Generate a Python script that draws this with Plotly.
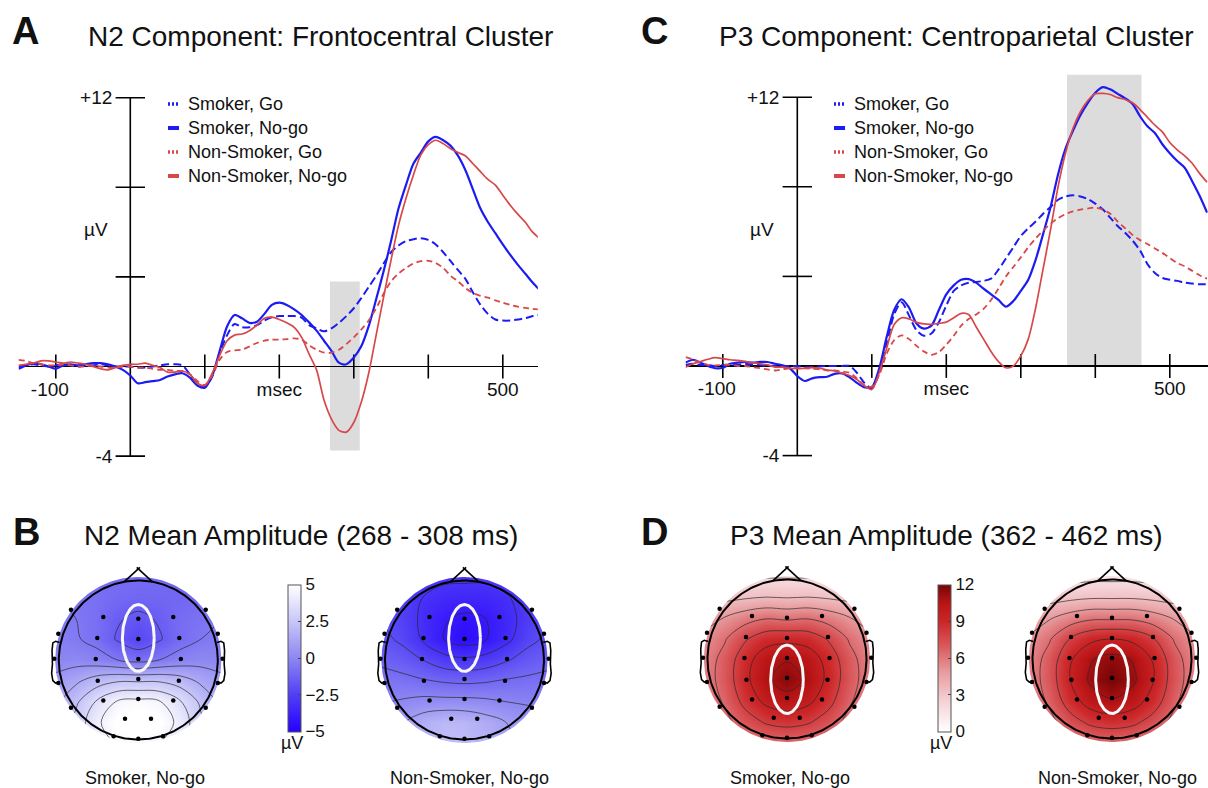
import numpy as np
import plotly.graph_objects as go

W, H = 1208, 788
FONT = "Liberation Sans, Arial, Helvetica, sans-serif"
BLUE = "#1c1cf2"
RED = "#d84848"
INK = "#111111"

# ------------------------------------------------------------------ data
time_ms = [-150, -140, -130, -120, -110, -100, -90, -80, -70, -60,
           -50, -40, -30, -20, -10, 0, 10, 20, 30, 40,
           50, 60, 70, 80, 90, 100, 110, 120, 130, 140,
           150, 160, 170, 180, 190, 200, 210, 220, 230, 240,
           250, 260, 270, 280, 290, 300, 310, 320, 330, 340,
           350, 360, 370, 380, 390, 400, 410, 420, 430, 440,
           450, 460, 470, 480, 490, 500, 510, 520, 530, 540, 550]

# Panel A: N2, frontocentral cluster (uV)
n2_smoker_go = [0.0, 0.05, 0.1, 0.05, 0.0, 0.05, 0.1, 0.05, 0.0, 0.05,
                0.05, 0.1, 0.05, 0.0, 0.0, 0.0, -0.05, -0.05, 0.0, 0.05,
                0.1, 0.1, 0.05, -0.35, -0.75, -0.9, -0.45, 0.6, 1.4, 1.9,
                1.75, 1.75, 1.85, 2.05, 2.2, 2.25, 2.25, 2.25, 2.18, 1.85,
                1.7, 1.57, 1.7, 1.95, 2.25, 2.6, 3.05, 3.55, 4.05, 4.6,
                5.1, 5.4, 5.6, 5.68, 5.73, 5.65, 5.45, 5.1, 4.7, 4.3,
                3.9, 3.3, 2.75, 2.35, 2.1, 2.05, 2.05, 2.1, 2.15, 2.25, 2.3]
n2_smoker_nogo = [-0.1, 0.05, 0.15, 0.1, 0.0, -0.1, 0.05, 0.1, 0.05, 0.1,
                  0.15, 0.15, 0.1, 0.0, -0.15, -0.4, -0.75, -0.7, -0.65, -0.6,
                  -0.45, -0.35, -0.3, -0.5, -0.85, -0.95, -0.4, 0.7, 1.8, 2.3,
                  2.15, 1.95, 2.0, 2.35, 2.75, 2.85, 2.75, 2.55, 2.3, 1.97,
                  1.6, 1.15, 0.7, 0.17, 0.1, 0.4, 0.9, 1.8, 3.0, 4.25,
                  5.6, 7.05, 8.1, 9.05, 9.55, 10.05, 10.25, 10.1, 9.85, 9.4,
                  8.75, 7.9, 7.05, 6.45, 5.95, 5.45, 4.98, 4.55, 4.15, 3.75, 3.4]
n2_nonsmoker_go = [0.3, 0.25, 0.15, 0.1, 0.05, 0.05, 0.1, 0.05, 0.0, 0.0,
                   0.05, 0.0, -0.05, -0.05, 0.0, 0.0, -0.05, -0.05, -0.1, -0.15,
                   -0.15, -0.2, -0.2, -0.35, -0.65, -0.82, -0.4, 0.3, 0.65, 0.72,
                   0.75, 0.9, 1.05, 1.15, 1.2, 1.2, 1.22, 1.26, 1.2, 0.95,
                   0.75, 0.62, 0.62, 0.75, 1.0, 1.3, 1.65, 2.05, 2.6, 3.25,
                   3.8, 4.15, 4.4, 4.6, 4.7, 4.72, 4.62, 4.4, 4.05, 3.8,
                   3.5, 3.28, 3.15, 3.07, 2.95, 2.85, 2.75, 2.67, 2.62, 2.57, 2.55]
n2_nonsmoker_nogo = [0.05, 0.1, 0.15, 0.25, 0.25, 0.2, 0.15, 0.2, 0.15, 0.1,
                     0.0, -0.1, -0.15, -0.05, 0.05, 0.1, 0.1, 0.15, 0.05, -0.05,
                     -0.25, -0.25, -0.2, -0.35, -0.75, -0.85, -0.3, 0.5, 1.15, 1.4,
                     1.45, 1.6, 1.85, 2.15, 2.2, 2.1, 1.95, 1.75, 1.3, 0.55,
                     -0.15, -1.5, -2.35, -2.85, -2.93, -2.5, -1.6, -0.3, 1.4, 3.1,
                     4.75, 6.3, 7.5, 8.55, 9.45, 9.9, 10.1, 9.95, 9.72, 9.55,
                     9.4, 9.05, 8.7, 8.35, 8.1, 7.65, 7.2, 6.8, 6.45, 6.0, 5.7]

# Panel C: P3, centroparietal cluster (uV)
p3_smoker_go = [0.05, 0.1, 0.05, 0.05, 0.0, 0.05, 0.05, 0.05, 0.1, 0.05,
                0.05, 0.0, 0.0, 0.0, 0.0, 0.0, -0.05, -0.05, -0.02, 0.0,
                0.0, 0.0, 0.0, -0.3, -0.75, -1.0, -0.3, 1.0, 2.3, 2.85,
                2.25, 1.6, 1.35, 1.45, 1.95, 2.7, 3.35, 3.6, 3.72, 3.75,
                3.8, 3.9, 4.3, 4.8, 5.3, 5.8, 6.15, 6.45, 6.8, 7.1,
                7.42, 7.57, 7.62, 7.57, 7.45, 7.25, 7.0, 6.62, 6.25, 5.95,
                5.6, 5.16, 4.55, 4.15, 3.93, 3.85, 3.8, 3.72, 3.68, 3.65, 3.65]
p3_smoker_nogo = [0.15, 0.28, 0.15, 0.0, -0.1, -0.08, 0.1, 0.15, 0.18, 0.15,
                  0.18, 0.18, 0.1, 0.03, -0.1, -0.45, -0.67, -0.55, -0.5, -0.48,
                  -0.35, -0.33, -0.5, -0.75, -0.95, -0.95, -0.1, 1.3, 2.5, 2.98,
                  2.6, 1.9, 1.67, 1.8, 2.5, 3.2, 3.6, 3.85, 3.88, 3.72,
                  3.45, 3.2, 2.95, 2.65, 2.9, 3.35, 3.85, 4.75, 5.9, 7.1,
                  8.55, 9.7, 10.5, 11.2, 11.75, 12.2, 12.45, 12.35, 12.15, 11.95,
                  11.7, 11.15, 10.7, 10.4, 9.9, 9.5, 9.15, 8.85, 8.25, 7.6, 6.85]
p3_nonsmoker_go = [0.4, 0.3, 0.15, 0.05, 0.03, 0.05, 0.05, 0.0, 0.0, -0.05,
                   -0.1, -0.15, -0.2, -0.15, -0.1, -0.1, -0.1, -0.12, -0.15, -0.2,
                   -0.2, -0.25, -0.3, -0.55, -0.85, -0.92, -0.4, 0.55, 1.15, 1.37,
                   1.2, 0.9, 0.65, 0.5, 0.62, 0.95, 1.35, 1.8, 2.1, 2.3,
                   2.55, 2.95, 3.45, 4.0, 4.42, 4.85, 5.3, 5.7, 6.05, 6.35,
                   6.6, 6.78, 6.9, 6.98, 7.03, 7.07, 6.98, 6.8, 6.45, 6.15,
                   5.85, 5.62, 5.45, 5.25, 5.05, 4.82, 4.6, 4.45, 4.25, 4.05, 3.9]
p3_nonsmoker_nogo = [-0.05, 0.1, 0.2, 0.3, 0.37, 0.33, 0.28, 0.25, 0.2, 0.15,
                     0.1, 0.05, -0.05, -0.05, -0.1, -0.12, -0.1, -0.07, -0.1, -0.18,
                     -0.22, -0.32, -0.42, -0.6, -0.88, -1.05, -0.3, 0.8, 1.85, 2.15,
                     2.1, 1.95, 1.88, 1.86, 1.9, 1.96, 2.15, 2.35, 2.3, 1.75,
                     1.2, 0.65, 0.2, -0.08, 0.0, 0.45, 1.2, 2.6, 4.35, 6.1,
                     8.0, 9.5, 10.6, 11.35, 11.85, 12.15, 12.17, 12.12, 11.98, 11.9,
                     11.75, 11.45, 11.1, 10.75, 10.45, 9.98, 9.65, 9.38, 9.05, 8.6, 8.2]

series_names = ["Smoker, Go", "Smoker, No-go", "Non-Smoker, Go", "Non-Smoker, No-go"]

x_ticks = [-100, 100, 200, 300, 400, 500]
x_label_vals = [-108, 200, 500]
x_label_text = ["-100", "msec", "500"]
y_ticks = [-4, 4, 8, 12]
y_label_vals = [12, -4]
y_label_text = ["+12", "-4"]

n2_window_ms = [268, 308]
n2_window_uv = [-3.75, 3.8]
p3_window_ms = [362, 462]
p3_window_uv = [0, 13]

# Topographic maps: values read on a regular grid over the head (rows top -> bottom)
topo_grid = [-1.05, -0.7875, -0.525, -0.2625, 0.0, 0.2625, 0.525, 0.7875, 1.05]

n2_topo_smoker = [
    [-0.6, -0.7, -0.8, -0.9, -0.9, -1.0, -1.1, -1.0, -0.8],
    [-0.5, -0.6, -0.8, -1.0, -1.1, -1.1, -1.1, -0.9, -0.7],
    [-0.4, -0.5, -0.8, -1.4, -1.7, -1.4, -0.9, -0.7, -0.5],
    [-0.2, -0.4, -0.8, -1.6, -2.2, -1.6, -0.9, -0.5, -0.3],
    [0.0, 0.1, -0.1, -0.5, -0.8, -0.5, -0.1, 0.1, 0.0],
    [0.8, 1.3, 2.0, 2.4, 2.4, 2.4, 2.0, 1.3, 0.8],
    [1.2, 2.3, 3.6, 4.6, 4.8, 4.6, 3.6, 2.3, 1.2],
    [1.5, 2.8, 4.3, 5.2, 5.4, 5.2, 4.2, 2.7, 1.5],
    [1.6, 2.7, 3.9, 4.6, 4.8, 4.5, 3.8, 2.6, 1.6],
]
n2_topo_nonsmoker = [
    [-2.3, -2.4, -2.6, -2.8, -2.8, -2.8, -2.6, -2.4, -2.3],
    [-2.2, -2.5, -3.0, -3.3, -3.4, -3.4, -3.1, -2.6, -2.2],
    [-2.0, -2.4, -3.2, -3.9, -4.2, -4.0, -3.4, -2.6, -2.0],
    [-1.7, -2.2, -3.1, -4.0, -4.5, -4.1, -3.3, -2.3, -1.8],
    [-1.2, -1.5, -2.0, -2.6, -2.8, -2.6, -2.1, -1.6, -1.3],
    [-0.6, -0.7, -0.9, -1.1, -1.2, -1.1, -0.9, -0.8, -0.7],
    [-0.1, 0.1, 0.3, 0.3, 0.3, 0.2, 0.0, -0.1, -0.2],
    [0.3, 0.9, 1.6, 2.0, 1.9, 1.5, 1.0, 0.5, 0.3],
    [0.5, 1.1, 1.8, 2.2, 2.1, 1.7, 1.2, 0.7, 0.5],
]
p3_topo_smoker = [
    [1.5, 1.5, 1.6, 1.8, 1.8, 1.8, 1.6, 1.5, 1.5],
    [3.0, 3.0, 3.2, 3.4, 3.3, 3.4, 3.2, 3.0, 3.0],
    [4.5, 5.0, 5.8, 6.3, 6.1, 6.3, 5.8, 5.0, 4.5],
    [5.2, 6.3, 7.8, 8.8, 9.0, 8.8, 7.8, 6.3, 5.2],
    [5.6, 7.0, 8.9, 10.4, 10.9, 10.4, 8.9, 7.0, 5.6],
    [5.7, 7.1, 9.1, 10.8, 11.6, 10.8, 9.1, 7.1, 5.7],
    [5.4, 6.7, 8.5, 9.9, 10.5, 9.9, 8.5, 6.7, 5.4],
    [4.8, 6.0, 7.3, 8.2, 8.5, 8.2, 7.3, 6.0, 4.8],
    [4.2, 5.0, 5.9, 6.4, 6.6, 6.4, 5.9, 5.0, 4.2],
]
p3_topo_nonsmoker = [
    [1.3, 1.3, 1.4, 1.5, 1.5, 1.5, 1.4, 1.3, 1.3],
    [2.8, 2.8, 3.0, 3.2, 3.2, 3.2, 3.0, 2.8, 2.8],
    [4.3, 4.8, 5.6, 6.1, 6.1, 6.1, 5.6, 4.8, 4.3],
    [5.1, 6.3, 8.0, 9.1, 9.4, 9.1, 8.0, 6.3, 5.1],
    [5.5, 7.1, 9.3, 10.9, 11.5, 10.9, 9.3, 7.1, 5.5],
    [5.6, 7.2, 9.5, 11.3, 12.0, 11.3, 9.5, 7.2, 5.6],
    [5.3, 6.8, 8.8, 10.3, 10.9, 10.3, 8.8, 6.8, 5.3],
    [4.7, 6.0, 7.4, 8.4, 8.7, 8.4, 7.4, 6.0, 4.7],
    [4.0, 4.9, 5.8, 6.4, 6.6, 6.4, 5.8, 4.9, 4.0],
]

# electrode positions (head radius = 1)
elec_x = [-0.847, 0.848, -0.44, 0.0, 0.44, -1.006, 1.0, -0.516, 0.0, 0.516,
          -1.057, 1.06, -0.535, 0.0, 0.535, -1.006, 1.0, -0.51, 0.0, 0.51,
          -0.847, 0.848, -0.44, 0.0, 0.44, -0.167, 0.16, -0.31, 0.0, 0.31]
elec_y = [0.633, 0.633, 0.54, 0.52, 0.54, 0.33, 0.33, 0.277, 0.264, 0.277,
          0.016, 0.016, 0.012, 0.012, 0.012, -0.29, -0.29, -0.26, -0.24, -0.26,
          -0.60, -0.60, -0.51, -0.49, -0.51, -0.74, -0.74, -0.96, -0.99, -0.96]

n2_roi = dict(cx=0.0, cy=0.277, rx=0.2, ry=0.42)
p3_roi = dict(cx=0.0, cy=-0.255, rx=0.205, ry=0.43)

n2_cbar_ticks = [5, 2.5, 0, -2.5, -5]
n2_cbar_text = ["5", "2.5", "0", "\u22122.5", "\u22125"]
p3_cbar_ticks = [12, 9, 6, 3, 0]
p3_cbar_text = ["12", "9", "6", "3", "0"]

# ------------------------------------------------------------------ helpers
def px_x(p):
    return p / W


def px_y(p):
    return 1 - p / H


MS_PX = 0.745   # pixels per ms
UV_PX = 22.4    # pixels per uV
Y_RANGE = [-4.6, 13.6]

fig = go.Figure()
layout_axes = {}
shapes = []
annotations = []

erp_panels = [
    dict(xa="x", ya="y", xk="xaxis", yk="yaxis", x0=130.3, y0=366.5, xr=[-150, 547],
         data=[n2_smoker_go, n2_smoker_nogo, n2_nonsmoker_go, n2_nonsmoker_nogo],
         win_ms=n2_window_ms, win_uv=n2_window_uv),
    dict(xa="x2", ya="y2", xk="xaxis2", yk="yaxis2", x0=797.3, y0=366.0, xr=[-150, 551],
         data=[p3_smoker_go, p3_smoker_nogo, p3_nonsmoker_go, p3_nonsmoker_nogo],
         win_ms=p3_window_ms, win_uv=p3_window_uv),
]

styles = [
    dict(color=BLUE, width=2.0, dash="8px,4px"),
    dict(color=BLUE, width=2.2, dash="solid"),
    dict(color=RED, width=1.8, dash="6px,4px"),
    dict(color=RED, width=1.7, dash="solid"),
]

for p in erp_panels:
    xd = [px_x(p["x0"] + p["xr"][0] * MS_PX), px_x(p["x0"] + p["xr"][1] * MS_PX)]
    yd = [px_y(p["y0"] - Y_RANGE[0] * UV_PX), px_y(p["y0"] - Y_RANGE[1] * UV_PX)]
    layout_axes[p["xk"]] = dict(
        domain=xd, range=p["xr"], anchor="free", position=px_y(p["y0"]),
        showgrid=False, zeroline=False, showline=False, ticks="",
        tickvals=x_label_vals, ticktext=x_label_text, ticklabelstandoff=9,
        tickfont=dict(family=FONT, size=19, color=INK), fixedrange=True)
    layout_axes[p["yk"]] = dict(
        domain=yd, range=Y_RANGE, anchor="free", position=px_x(p["x0"]),
        showgrid=False, zeroline=True, zerolinecolor="black", zerolinewidth=1.6,
        showline=False, ticks="", tickvals=y_label_vals, ticktext=y_label_text,
        ticklabelstandoff=18, tickfont=dict(family=FONT, size=19, color=INK),
        fixedrange=True)
    # analysis window shading
    shapes.append(dict(type="rect", xref=p["xa"], yref=p["ya"],
                       x0=p["win_ms"][0], x1=p["win_ms"][1],
                       y0=p["win_uv"][0], y1=p["win_uv"][1],
                       fillcolor="#dcdcdc", line=dict(width=0), layer="below"))
    # y axis line and ticks
    fig.add_trace(go.Scatter(x=[0, 0], y=[min(y_ticks), max(y_ticks)], mode="lines",
                             line=dict(color="black", width=1.6), xaxis=p["xa"], yaxis=p["ya"],
                             showlegend=False, hoverinfo="skip"))
    fig.add_trace(go.Scatter(x=[0] * len(y_ticks), y=y_ticks, mode="markers",
                             marker=dict(symbol="line-ew", size=21, line=dict(color="black", width=1.6)),
                             xaxis=p["xa"], yaxis=p["ya"], showlegend=False, hoverinfo="skip"))
    fig.add_trace(go.Scatter(x=x_ticks, y=[0] * len(x_ticks), mode="markers",
                             marker=dict(symbol="line-ns", size=17, line=dict(color="black", width=1.6)),
                             xaxis=p["xa"], yaxis=p["ya"], showlegend=False, hoverinfo="skip"))
    for vals, st, nm in zip(p["data"], styles, series_names):
        fig.add_trace(go.Scatter(x=time_ms, y=vals, mode="lines", name=nm,
                                 line=dict(color=st["color"], width=st["width"], dash=st["dash"],
                                           shape="spline", smoothing=0.8),
                                 xaxis=p["xa"], yaxis=p["ya"], showlegend=False, hoverinfo="skip"))

# ------------------------------------------------------------------ legends (manual, small icons)
legend_specs = [dict(icon_x=168, text_x=186), dict(icon_x=834, text_x=852)]
legend_rows = [104, 128, 152, 176]
for lg in legend_specs:
    for st, nm, ry in zip(styles, series_names, legend_rows):
        dash = "2px,2px" if st["dash"] != "solid" else "solid"
        shapes.append(dict(type="line", xref="paper", yref="paper",
                           x0=px_x(lg["icon_x"]), x1=px_x(lg["icon_x"] + 11),
                           y0=px_y(ry), y1=px_y(ry),
                           line=dict(color=st["color"], width=3.5 if dash != "solid" else 4, dash=dash)))
        annotations.append(dict(text=nm, xref="paper", yref="paper", x=px_x(lg["text_x"]), y=px_y(ry),
                                xanchor="left", yanchor="middle", showarrow=False,
                                font=dict(family=FONT, size=18, color=INK)))

# ------------------------------------------------------------------ topographic maps
def ellipse(cx, cy, rx, ry, n=121):
    t = np.linspace(0, 2 * np.pi, n)
    return (cx + rx * np.cos(t)).tolist(), (cy + ry * np.sin(t)).tolist()


HEAD_PX = 79.5
HR = 1.2
DISK_R = 1.045
t_c = np.linspace(0, 2 * np.pi, 241)
mask_box = 1.35
mask_x = [mask_box, mask_box, -mask_box, -mask_box, mask_box, mask_box] + (DISK_R * np.cos(-t_c)).tolist()
mask_y = [0, mask_box, mask_box, -mask_box, -mask_box, 0] + (DISK_R * np.sin(-t_c)).tolist()
outline_x = np.cos(t_c).tolist()
outline_y = np.sin(t_c).tolist()
nose_x = [-0.175, 0.02, None, 0.175, -0.02]
nose_y = [0.985, 1.165, None, 0.985, 1.165]
ear_x = [-0.99, -1.04, -1.075, -1.085, -1.08, -1.09, -1.075, -1.04, -0.99]
ear_y = [0.22, 0.235, 0.215, 0.12, -0.05, -0.17, -0.26, -0.29, -0.28]
ears_x = ear_x + [None] + [-v for v in ear_x]
ears_y = ear_y + [None] + ear_y

heads = [
    dict(n=3, cx=138.3, cy=660.0, z=n2_topo_smoker, ca="coloraxis", lv=(-1.5, 4.5, 1.0), roi=n2_roi,
         label="Smoker, No-go", lx=144.5),
    dict(n=4, cx=464.5, cy=660.0, z=n2_topo_nonsmoker, ca="coloraxis", lv=(-4.0, 1.0, 1.0), roi=n2_roi,
         label="Non-Smoker, No-go", lx=469.5),
    dict(n=5, cx=787.0, cy=659.0, z=p3_topo_smoker, ca="coloraxis2", lv=(2.0, 11.0, 1.5), roi=p3_roi,
         label="Smoker, No-go", lx=790.0),
    dict(n=6, cx=1112.0, cy=659.0, z=p3_topo_nonsmoker, ca="coloraxis2", lv=(2.0, 11.0, 1.5), roi=p3_roi,
         label="Non-Smoker, No-go", lx=1117.0),
]

for hd in heads:
    n = hd["n"]
    xa, ya = f"x{n}", f"y{n}"
    half = HR * HEAD_PX
    layout_axes[f"xaxis{n}"] = dict(domain=[px_x(hd["cx"] - half), px_x(hd["cx"] + half)],
                                    range=[-HR, HR], visible=False, anchor=ya, fixedrange=True)
    layout_axes[f"yaxis{n}"] = dict(domain=[px_y(hd["cy"] + half), px_y(hd["cy"] - half)],
                                    range=[-HR, HR], visible=False, anchor=xa, fixedrange=True)
    fig.add_trace(go.Contour(
        x=topo_grid, y=topo_grid, z=hd["z"][::-1], coloraxis=hd["ca"],
        autocontour=False,
        contours=dict(coloring="heatmap", showlines=True,
                      start=hd["lv"][0], end=hd["lv"][1], size=hd["lv"][2]),
        line=dict(color="rgba(40,40,40,0.85)", width=0.8, smoothing=1.0),
        xaxis=xa, yaxis=ya, hoverinfo="skip", showlegend=False))
    fig.add_trace(go.Scatter(x=mask_x, y=mask_y, mode="lines", fill="toself", fillcolor="white",
                             line=dict(width=0, color="white"), xaxis=xa, yaxis=ya,
                             showlegend=False, hoverinfo="skip"))
    for gx, gy, wd in [(outline_x, outline_y, 2.0), (nose_x, nose_y, 1.6), (ears_x, ears_y, 1.6)]:
        fig.add_trace(go.Scatter(x=gx, y=gy, mode="lines", line=dict(color="black", width=wd),
                                 xaxis=xa, yaxis=ya, showlegend=False, hoverinfo="skip"))
    ex, ey = ellipse(**hd["roi"])
    fig.add_trace(go.Scatter(x=ex, y=ey, mode="lines", line=dict(color="#f8f8f8", width=3),
                             xaxis=xa, yaxis=ya, showlegend=False, hoverinfo="skip"))
    fig.add_trace(go.Scatter(x=elec_x, y=elec_y, mode="markers",
                             marker=dict(color="black", size=4.5),
                             xaxis=xa, yaxis=ya, showlegend=False, hoverinfo="skip"))
    annotations.append(dict(text=hd["label"], xref="paper", yref="paper", x=px_x(hd["lx"]), y=px_y(778),
                            xanchor="center", yanchor="middle", showarrow=False,
                            font=dict(family=FONT, size=18, color=INK)))


def cbar(x_left, ticks, text):
    return dict(x=px_x(x_left), xanchor="left", xref="paper", xpad=0,
                y=px_y(658), yanchor="middle", ypad=0,
                len=147, lenmode="pixels", thickness=13, thicknessmode="pixels",
                outlinewidth=1, outlinecolor="#555555",
                tickvals=ticks, ticktext=text, ticks="inside", ticklen=3, tickcolor="#444444",
                tickfont=dict(family=FONT, size=17, color=INK))


coloraxis_n2 = dict(cmin=-5, cmax=5,
                    colorscale=[[0.0, "rgb(38,0,255)"], [0.25, "rgb(80,62,245)"],
                                [0.5, "rgb(140,134,242)"], [0.75, "rgb(200,198,248)"],
                                [1.0, "rgb(255,255,255)"]],
                    colorbar=cbar(288.3, n2_cbar_ticks, n2_cbar_text))
coloraxis_p3 = dict(cmin=0, cmax=12,
                    colorscale=[[0.0, "rgb(255,255,255)"], [0.2, "rgb(245,212,216)"],
                                [0.4, "rgb(232,158,161)"], [0.6, "rgb(216,84,87)"],
                                [0.75, "rgb(204,38,40)"], [0.88, "rgb(184,20,22)"],
                                [1.0, "rgb(118,6,6)"]],
                    colorbar=cbar(938.0, p3_cbar_ticks, p3_cbar_text))

# ------------------------------------------------------------------ text
def txt(s, x, y, size, bold=False, anchor="left"):
    return dict(text=f"<b>{s}</b>" if bold else s, xref="paper", yref="paper",
                x=px_x(x), y=px_y(y), xanchor=anchor, yanchor="middle", showarrow=False,
                font=dict(family=FONT, size=size, color=INK))


annotations += [
    txt("A", 25, 31, 38, True, "center"),
    txt("N2 Component: Frontocentral Cluster", 86, 36, 28),
    txt("C", 654, 31, 38, True, "center"),
    txt("P3 Component: Centroparietal Cluster", 717, 36, 28),
    txt("B", 26, 532, 38, True, "center"),
    txt("N2 Mean Amplitude (268 - 308 ms)", 82, 535, 28),
    txt("D", 654, 532, 38, True, "center"),
    txt("P3 Mean Amplitude (362 - 462 ms)", 728, 535, 28),
    txt("\u00b5V", 96, 229, 19, anchor="center"),
    txt("\u00b5V", 762, 229, 19, anchor="center"),
    txt("\u00b5V", 292, 743, 18, anchor="center"),
    txt("\u00b5V", 941, 743, 18, anchor="center"),
]

fig.update_layout(
    width=W, height=H, margin=dict(l=0, r=0, t=0, b=0),
    paper_bgcolor="white", plot_bgcolor="rgba(0,0,0,0)",
    showlegend=False, shapes=shapes, annotations=annotations,
    coloraxis=coloraxis_n2, coloraxis2=coloraxis_p3,
    font=dict(family=FONT, color=INK),
    **layout_axes,
)

fig.write_html("out.html", config={"displayModeBar": False, "staticPlot": True},
               post_script="document.body.style.margin='0px';document.body.style.overflow='hidden';")
